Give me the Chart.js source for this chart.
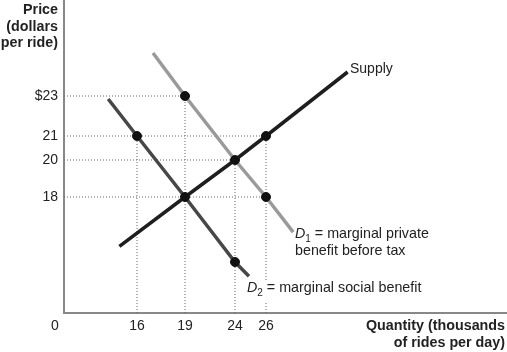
<!DOCTYPE html>
<html>
<head>
<meta charset="utf-8">
<script src="https://cdn.jsdelivr.net/npm/chart.js@4.4.1/dist/chart.umd.min.js"></script>
<style>
  html, body { margin: 0; background: #fff; }
  #wrap { width: 507px; height: 352px; }
</style>
</head>
<body>
<div id="wrap"><canvas id="chart"></canvas></div>
<script>
// axis ticks
const quantityTicks = [16, 19, 24, 26];
const priceTicks = [18, 20, 21, 23];
const priceLabels = ['18', '20', '21', '$23'];

// curves (quantity in thousands of rides, price in dollars)
const supplyQty = [14.9, 19, 24, 26, 31.1];
const supplyPrice = [14.2, 18, 20, 21, 24.2];
const privateQty = [17, 19, 24, 26, 27.7];
const privatePrice = [25.15, 23, 20, 18, 15.3];
const socialQty = [14.2, 16, 19, 24, 24.9];
const socialPrice = [22.85, 21, 18, 13, 11.9];

// marked points
const dotQty = [19, 16, 26, 24, 19, 26, 24];
const dotPrice = [23, 21, 21, 20, 18, 18, 13];

// the figure is not drawn to scale: value -> distance from the axis
const xBends = [[0, 0], [14, 41], [16, 73], [19, 121], [24, 171], [26, 202], [40, 426]];
const yBends = [[0, 0], [11, 25], [13, 51], [18, 116], [20, 153], [21, 177], [23, 217], [30, 357]];
const bends = { x: xBends, y: yBends };

function bend(v, pts) {
    let i = 1;
    while (i < pts.length - 1 && v > pts[i][0]) i++;
    const a = pts[i - 1], b = pts[i];
    return a[1] + (v - a[0]) * (b[1] - a[1]) / (b[0] - a[0]);
}

class BentScale extends Chart.LinearScale {
    getPixelForValue(value) {
        const d = bend(value, bends[this.id]);
        return this.isHorizontal() ? this.left + d : this.bottom - d;
    }
}
BentScale.id = 'bent';
BentScale.defaults = {};
Chart.register(BentScale);

const pts = (qs, ps) => qs.map((q, i) => ({ x: q, y: ps[i] }));

// dotted guides out to both axes
const guides = [];
priceTicks.forEach(p => {
    const q = Math.max(...dotQty.filter((_, i) => dotPrice[i] === p));
    guides.push([{ x: 0, y: p }, { x: q, y: p }]);
});
quantityTicks.forEach(q => {
    const p = Math.max(...dotPrice.filter((_, i) => dotQty[i] === q));
    guides.push([{ x: q, y: 0 }, { x: q, y: p }]);
});

const FONT = '"Liberation Sans", Arial, sans-serif';

const datasets = guides.map(g => ({
    data: g, showLine: true, pointRadius: 0,
    borderColor: '#666', borderWidth: 1, borderDash: [1, 2], order: 3
}));
datasets.push(
    { data: pts(privateQty, privatePrice), showLine: true, pointRadius: 0, borderColor: '#9a9a9a', borderWidth: 3.5, order: 2 },
    { data: pts(socialQty, socialPrice), showLine: true, pointRadius: 0, borderColor: '#474747', borderWidth: 3.5, order: 2 },
    { data: pts(supplyQty, supplyPrice), showLine: true, pointRadius: 0, borderColor: '#1e1e1e', borderWidth: 3.5, order: 2 },
    { data: pts(dotQty, dotPrice), showLine: false, pointRadius: 4.5, backgroundColor: '#111', borderColor: '#111', order: 1 }
);

function dLabel(ctx, x, y, sub, rest) {
    ctx.font = 'italic 14.3px ' + FONT;
    ctx.fillText('D', x, y);
    x += ctx.measureText('D').width;
    ctx.font = '10px ' + FONT;
    ctx.fillText(sub, x, y + 4);
    x += ctx.measureText(sub).width;
    ctx.font = '14.3px ' + FONT;
    ctx.fillText(rest, x, y);
}

const notes = {
    id: 'notes',
    afterDatasetsDraw(chart) {
        const ctx = chart.ctx;
        ctx.save();
        ctx.fillStyle = '#fff';
        ctx.fillRect(245, 280, 190, 22);
        ctx.fillStyle = '#222';
        ctx.textBaseline = 'alphabetic';
        ctx.textAlign = 'left';
        ctx.font = '14px ' + FONT;
        ctx.fillText('Supply', 350, 73);
        dLabel(ctx, 295, 238, '1', ' = marginal private');
        ctx.font = '14.3px ' + FONT;
        ctx.fillText('benefit before tax', 295, 255);
        dLabel(ctx, 247, 292, '2', ' = marginal social benefit');

        ctx.font = 'bold 14.3px ' + FONT;
        ctx.textAlign = 'right';
        ctx.fillText('Price', 58, 14);
        ctx.fillText('(dollars', 58, 30.5);
        ctx.fillText('per ride)', 58, 47);
        ctx.fillText('Quantity (thousands', 505, 329.5);
        ctx.fillText('of rides per day)', 505, 347);

        ctx.font = '14px ' + FONT;
        ctx.textAlign = 'center';
        ctx.fillText('0', 55, 330);
        ctx.restore();
    }
};

new Chart(document.getElementById('chart'), {
    type: 'scatter',
    data: { datasets: datasets },
    plugins: [notes],
    options: {
        responsive: true,
        maintainAspectRatio: false,
        animation: false,
        layout: { padding: 0, autoPadding: false },
        plugins: { legend: { display: false }, tooltip: { enabled: false } },
        scales: {
            x: {
                type: 'bent', min: 0, max: 443,
                grid: { display: false, drawTicks: false },
                border: { color: '#888', width: 2 },
                ticks: {
                    autoSkip: false, maxRotation: 0, padding: 5, color: '#222',
                    font: { family: FONT, size: 14 }
                },
                afterBuildTicks: s => { s.ticks = quantityTicks.map(v => ({ value: v })); },
                afterFit: s => {
                    s.height = 39;
                    s.paddingLeft = s.paddingRight = s.paddingTop = s.paddingBottom = 0;
                }
            },
            y: {
                type: 'bent', min: 0, max: 313,
                grid: { display: false, drawTicks: false },
                border: { color: '#888', width: 2 },
                ticks: {
                    autoSkip: false, padding: 6, color: '#222',
                    font: { family: FONT, size: 14 },
                    callback: v => priceLabels[priceTicks.indexOf(v)]
                },
                afterBuildTicks: s => { s.ticks = priceTicks.map(v => ({ value: v })); },
                afterFit: s => {
                    s.width = 64;
                    s.paddingLeft = s.paddingRight = s.paddingTop = s.paddingBottom = 0;
                }
            }
        }
    }
});
</script>
</body>
</html>
